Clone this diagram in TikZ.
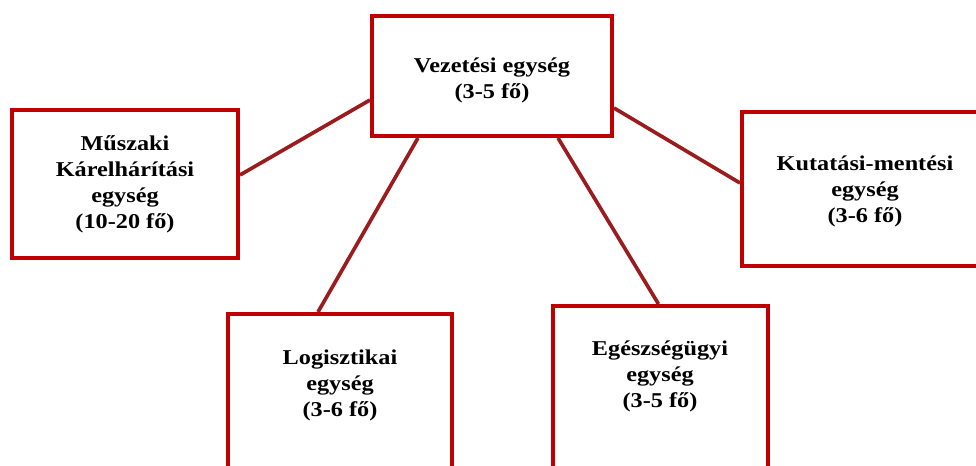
\documentclass[tikz,border=0pt]{standalone}
\usepackage{fontspec}
\setmainfont[FakeStretch=1.15]{Liberation Serif}
\usetikzlibrary{shapes,positioning,calc,shadows}

\definecolor{boxred}{HTML}{C00000}
\definecolor{linkred}{HTML}{9A1C1F}

\begin{document}
\begin{tikzpicture}[
    x=0.025cm, y=-0.025cm,
    box/.style={rectangle, draw=boxred, line width=2.8pt, fill=white,
      drop shadow={shadow xshift=1.2pt, shadow yshift=-1.2pt, opacity=0.35}},
    label/.style={align=center, font=\fontsize{15}{18.5}\selectfont\bfseries},
    link/.style={draw=linkred, line width=2.6pt}
  ]
  \useasboundingbox (0,0) rectangle (976,466);
  \clip (0,0) rectangle (976,466);

  % Top unit
  \node[box, minimum width=6cm, minimum height=3cm] (vez) at (492,76) {};
  \node[label] (vezt) at (492,80) {Vezetési egység\\(3-5 fő)};

  % Left unit
  \node[box, minimum width=5.65cm, minimum height=3.7cm] (mus) at (125,184) {};
  \node[label] (must) at (125,184) {Műszaki\\Kárelhárítási\\egység\\(10-20 fő)};

  % Right unit
  \node[box, minimum width=6.2cm, minimum height=3.85cm] (kut) at (866,189) {};
  \node[label] (kutt) at (865,191) {Kutatási-mentési\\egység\\(3-6 fő)};

  % Bottom units
  \node[box, minimum width=5.6cm, minimum height=4.4cm] (log) at (340,402) {};
  \node[label] (logt) at (340,385) {Logisztikai\\egység\\(3-6 fő)};

  \node[box, minimum width=5.375cm, minimum height=4.6cm] (egs) at (660.5,398) {};
  \node[label] (egst) at (660,376) {Egészségügyi\\egység\\(3-5 fő)};

  % Connectors
  \draw[link] ($(mus.east)+(0,-9)$) -- ($(vez.west)+(0,24)$);
  \draw[link] ($(vez.east)+(0,32)$) -- ($(kut.west)+(0,-6)$);
  \draw[link] ($(vez.south)+(-74,0)$) -- ($(log.north)+(-22,0)$);
  \draw[link] ($(vez.south)+(66,0)$) -- ($(egs.north)+(-2,0)$);

\end{tikzpicture}
\end{document}
